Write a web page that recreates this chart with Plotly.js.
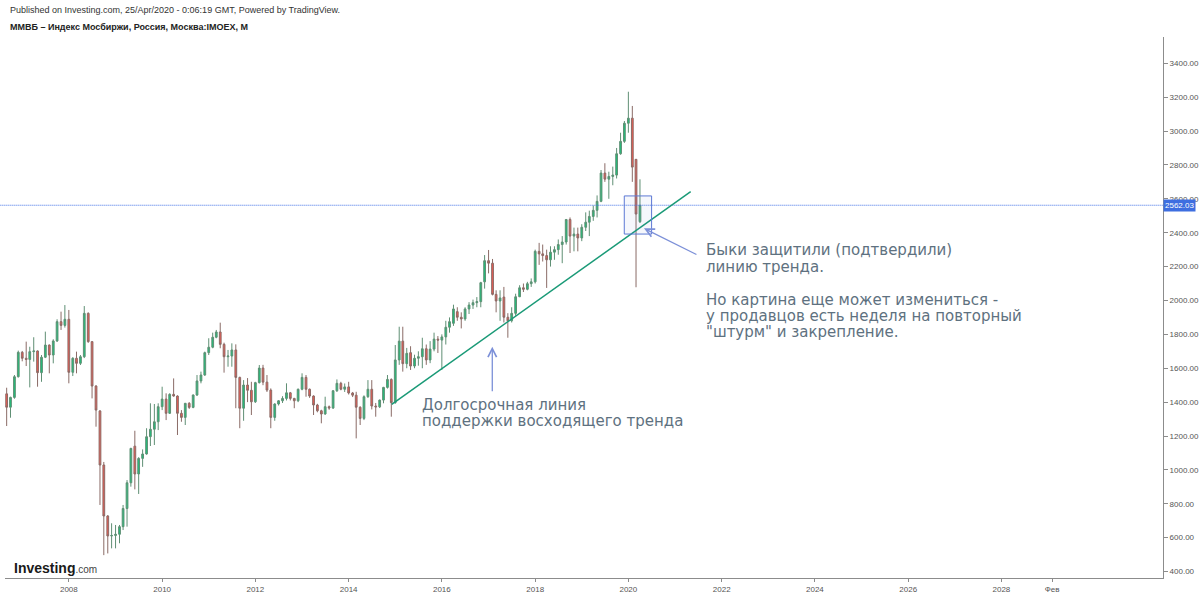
<!DOCTYPE html>
<html>
<head>
<meta charset="utf-8">
<script src="https://cdn.plot.ly/plotly-3.0.1.min.js"></script>
<style>
  html, body { margin: 0; padding: 0; background: #ffffff; }
  #chart { width: 1200px; height: 599px; }
</style>
</head>
<body>
<div id="chart"></div>
<script>
// Monthly candles, first candle = September 2006
const startYear = 2006;
const startMonth = 9;

const openVals = [
  1449,1370,1428,1550,1694,1659,1652,1698,1702,1574,1665,1737,1678,1761,1875,1853,
  1889,1576,1659,1629,1668,1924,1757,1495,1348,1029,728,610,
  613,620,665,772,924,1140,976,1068,1094,1196,1240,1284,
  1373,1418,1334,1446,1436,1334,1310,1393,1369,1442,1525,1560,
  1692,1724,1783,1814,1741,1668,1672,1708,1546,1364,1501,1470,
  1402,1515,1601,1518,1471,1310,1389,1408,1422,1455,1422,1408,
  1476,1546,1476,1436,1383,1349,1330,1373,1365,1467,1511,1476,
  1490,1454,1441,1370,1304,1432,1476,1377,1372,1412,1487,1534,
  1397,1649,1760,1627,1692,1613,1659,1668,1715,1649,1713,1772,
  1766,1785,1842,1865,1934,1901,1891,1950,1973,1987,1993,2110,
  2235,2220,2036,1997,2020,1901,1880,1924,2022,2075,2066,2099,
  2110,2290,2275,2265,2240,2285,2300,2330,2345,2478,2380,2392,
  2369,2432,2462,2496,2532,2585,2752,2716,2732,2740,2866,2939,
  3046,3076,2833,2465
];
const highVals = [
  1485,1432,1560,1704,1702,1757,1727,1783,1705,1678,1816,1740,1771,1889,1934,1973,
  1944,1665,1698,1678,1967,1930,1760,1500,1353,1047,733,685,
  675,675,793,940,1130,1231,1075,1121,1246,1393,1389,1393,
  1491,1452,1452,1540,1440,1353,1395,1400,1445,1560,1580,1698,
  1777,1810,1826,1869,1751,1708,1747,1741,1550,1530,1542,1520,
  1520,1619,1620,1560,1481,1393,1412,1435,1511,1460,1425,1480,
  1570,1560,1480,1440,1390,1355,1432,1380,1471,1534,1520,1510,
  1520,1460,1461,1375,1440,1530,1530,1395,1415,1490,1560,1540,
  1737,1845,1845,1720,1730,1680,1700,1780,1740,1760,1810,1790,
  1800,1880,1900,1975,1960,1930,1960,1990,2005,2020,2110,2268,
  2298,2245,2060,2060,2080,1925,1960,2040,2090,2100,2110,2130,
  2300,2340,2330,2300,2320,2320,2360,2380,2480,2490,2430,2430,
  2450,2520,2530,2560,2620,2770,2810,2760,2790,2900,2990,3059,
  3232,3148,2835,2715
];
const lowVals = [
  1259,1308,1420,1545,1641,1613,1487,1639,1491,1520,1660,1570,1629,1755,1826,1840,
  1511,1554,1570,1619,1660,1750,1422,1255,793,497,507,537,
  537,567,645,665,901,885,858,1018,1090,1141,1147,1235,
  1353,1294,1330,1432,1206,1284,1265,1360,1364,1436,1511,1555,
  1678,1718,1777,1718,1574,1609,1609,1364,1246,1290,1400,1324,
  1395,1510,1500,1460,1246,1290,1380,1395,1410,1410,1364,1400,
  1470,1432,1425,1324,1340,1275,1325,1355,1360,1460,1470,1460,
  1445,1430,1186,1265,1294,1425,1357,1314,1365,1393,1480,1314,
  1390,1620,1580,1600,1590,1600,1615,1600,1620,1630,1700,1690,
  1590,1740,1810,1850,1880,1835,1880,1920,1950,1960,1960,2070,
  2160,2030,1930,1880,1870,1780,1870,1910,2020,2050,2060,2080,
  2100,2210,2230,2074,2200,2240,2270,2220,2330,2280,2290,2290,
  2350,2410,2380,2470,2490,2580,2700,2600,2680,2720,2860,2930,
  2990,2700,2078,2457
];
const closeVals = [
  1370,1428,1550,1694,1659,1652,1698,1702,1574,1665,1737,1678,1761,1875,1853,1889,
  1576,1659,1629,1668,1924,1757,1495,1353,1029,728,610,613,
  620,665,772,924,1127,976,1068,1094,1196,1240,1284,1373,
  1418,1334,1446,1436,1334,1310,1393,1369,1442,1525,1560,1692,
  1724,1783,1814,1741,1668,1672,1708,1546,1364,1501,1470,1402,
  1515,1601,1518,1471,1310,1389,1408,1422,1455,1422,1408,1476,
  1546,1476,1436,1383,1349,1330,1373,1365,1467,1511,1476,1490,
  1454,1441,1370,1304,1432,1476,1377,1372,1412,1487,1534,1397,
  1649,1760,1627,1688,1613,1659,1668,1715,1649,1713,1772,1766,
  1785,1842,1875,1950,1901,1891,1950,1973,1987,1993,2105,2235,
  2220,2036,1997,2015,1901,1880,1924,2022,2075,2066,2099,2110,
  2290,2275,2265,2240,2285,2300,2330,2345,2478,2380,2392,2369,
  2432,2462,2496,2532,2585,2752,2716,2732,2740,2866,2939,3046,
  3076,2787,2510,2562
];

const lastPrice = 2562.03;
const yTicks = [400,600,800,1000,1200,1400,1600,1800,2000,2200,2400,2600,2800,3000,3200,3400];
const xTickVals = ['2008-01-01','2010-01-01','2012-01-01','2014-01-01','2016-01-01','2018-01-01',
                   '2020-01-01','2022-01-01','2024-01-01','2026-01-01','2028-01-01','2029-02-01'];
const xTickText = ['2008','2010','2012','2014','2016','2018','2020','2022','2024','2026','2028','Фев'];

const trendStart = ['2014-12-04', 1387];
const trendEnd = ['2021-05-03', 2642];
const boxX = ['2019-11-30', '2020-07-01'];
const boxY = [2392, 2617];

const headerLine = 'Published on Investing.com, 25/Apr/2020 - 0:06:19 GMT, Powered by TradingView.';
const titleLine = 'ММВБ – Индекс Мосбиржи, Россия, Москва:IMOEX, M';
const noteRight = [
  'Быки защитили (подтвердили)',
  'линию тренда.',
  'Но картина еще может измениться -',
  'у продавцов есть неделя на повторный',
  '"штурм" и закрепление.'
];
const noteLeft = ['Долгосрочная линия', 'поддержки восходящего тренда'];

// month dates
const dates = [];
for (let i = 0; i < openVals.length; i++) {
  const m0 = startMonth - 1 + i;
  const y = startYear + Math.floor(m0 / 12);
  const m = (m0 % 12) + 1;
  dates.push(y + '-' + String(m).padStart(2, '0') + '-01');
}

const trace = {
  type: 'candlestick',
  x: dates,
  open: openVals, high: highVals, low: lowVals, close: closeVals,
  increasing: { line: { color: '#5f8f74', width: 1 }, fillcolor: '#1cc27b' },
  decreasing: { line: { color: '#8a6b66', width: 1 }, fillcolor: '#ef5a52' },
  whiskerwidth: 0,
  hoverinfo: 'skip',
  showlegend: false
};

const textColor = '#5e7180';
const noteFont = { family: 'DejaVu Sans, Verdana, sans-serif', size: 15, color: textColor };
const px2x = px => (px - 5) / 1158;
const py2y = py => (578 - py) / 541;

const annotations = [];
const rightY = [250, 267, 300, 316, 332];
noteRight.forEach((t, i) => annotations.push({
  xref: 'paper', yref: 'paper', x: px2x(705), y: py2y(rightY[i]),
  xanchor: 'left', yanchor: 'middle', text: t, showarrow: false, font: noteFont, borderpad: 0
}));
const leftY = [405, 421];
noteLeft.forEach((t, i) => annotations.push({
  xref: 'paper', yref: 'paper', x: px2x(421), y: py2y(leftY[i]),
  xanchor: 'left', yanchor: 'middle', text: t, showarrow: false, font: noteFont, borderpad: 0
}));
// arrows
annotations.push({
  xref: 'x', yref: 'y', x: '2017-01-30', y: 1727, ax: 0, ay: 46, text: '',
  showarrow: true, arrowhead: 5, arrowsize: 1.3, arrowwidth: 1.3, arrowcolor: '#7c90d8'
});
annotations.push({
  xref: 'x', yref: 'y', x: '2020-05-02', y: 2426, ax: 54, ay: 27, text: '',
  showarrow: true, arrowhead: 5, arrowsize: 1.3, arrowwidth: 1.3, arrowcolor: '#7c90d8'
});
// header
annotations.push({
  xref: 'paper', yref: 'paper', x: px2x(9), y: py2y(10), xanchor: 'left', yanchor: 'middle',
  text: headerLine, showarrow: false, borderpad: 0,
  font: { family: 'Liberation Sans, Arial, sans-serif', size: 9, color: '#333333' }
});
annotations.push({
  xref: 'paper', yref: 'paper', x: px2x(9), y: py2y(27), xanchor: 'left', yanchor: 'middle',
  text: '<b>' + titleLine + '</b>', showarrow: false, borderpad: 0,
  font: { family: 'Liberation Sans, Arial, sans-serif', size: 9, color: '#222222' }
});
// logo
annotations.push({
  xref: 'paper', yref: 'paper', x: px2x(12), y: py2y(568), xanchor: 'left', yanchor: 'middle',
  text: '<b>Investing</b><span style="font-size:10px;color:#444">.com</span>', showarrow: false,
  font: { family: 'Liberation Sans, Arial, sans-serif', size: 14, color: '#1a1a1a' }
});
// last price label
annotations.push({
  xref: 'paper', yref: 'y', x: 1, y: lastPrice, xanchor: 'left', yanchor: 'middle',
  text: lastPrice.toFixed(2), showarrow: false, bgcolor: '#3e6ee0', borderpad: 1,
  font: { family: 'Liberation Sans, Arial, sans-serif', size: 8, color: '#ffffff' }
});

const shapes = [
  { type: 'line', xref: 'paper', yref: 'y', x0: -0.004, x1: 1, y0: lastPrice, y1: lastPrice,
    line: { color: '#3f6fe6', width: 1, dash: '1px,1px' } },
  { type: 'line', xref: 'x', yref: 'y', x0: trendStart[0], y0: trendStart[1], x1: trendEnd[0], y1: trendEnd[1],
    line: { color: '#1a9a77', width: 1.5 } },
  { type: 'rect', xref: 'x', yref: 'y', x0: boxX[0], x1: boxX[1], y0: boxY[0], y1: boxY[1],
    line: { color: '#5c78d4', width: 1 }, fillcolor: 'rgba(92,120,212,0.06)' }
];

const axisFont = { family: 'Liberation Sans, Arial, sans-serif', size: 8, color: '#555555' };
const layout = {
  width: 1200, height: 599,
  margin: { l: 5, r: 37, t: 37, b: 21 },
  paper_bgcolor: '#ffffff', plot_bgcolor: '#ffffff',
  showlegend: false,
  xaxis: {
    type: 'date', range: ['2006-08-19', '2031-06-20'],
    tickvals: xTickVals, ticktext: xTickText, tickfont: axisFont,
    showgrid: false, zeroline: false, showline: true, linecolor: '#8c8c8c', linewidth: 1,
    ticks: 'outside', ticklen: 3, tickcolor: '#8c8c8c',
    rangeslider: { visible: false }, fixedrange: true
  },
  yaxis: {
    side: 'right', range: [362, 3555], tickvals: yTicks, tickformat: '.2f', tickfont: axisFont,
    showgrid: false, zeroline: false, showline: true, linecolor: '#8c8c8c', linewidth: 1,
    ticks: 'outside', ticklen: 4, tickcolor: '#8c8c8c', fixedrange: true
  },
  annotations: annotations,
  shapes: shapes
};

Plotly.newPlot('chart', [trace], layout, { staticPlot: true, displayModeBar: false });
</script>
</body>
</html>
